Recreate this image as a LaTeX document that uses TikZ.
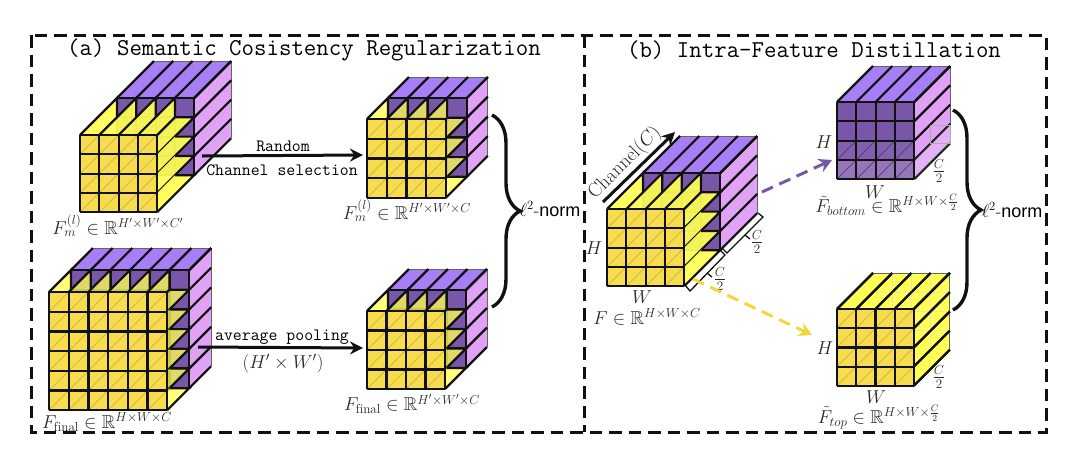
\documentclass[tikz,border=0pt]{standalone}
\usepackage{amsmath,amssymb}
\usepackage{fix-cm}
\usepackage{fontspec}
\setsansfont{Liberation Sans}
\usepackage{tikz}
\usepackage{xcolor}
\usetikzlibrary{arrows.meta,calc,decorations.pathreplacing}
\definecolor{ink}{HTML}{111111}
\definecolor{slabfront}{HTML}{7856A8}
\definecolor{slabtop}{HTML}{A67EF5}
\definecolor{slabside}{HTML}{E0A2F5}
\definecolor{lemonside}{HTML}{FFFF55}
\definecolor{lemonfront}{HTML}{F7DC4E}
\definecolor{lemondiag}{HTML}{CFB244}
\definecolor{arrowgold}{HTML}{F2D73B}

\newcommand{\slabcube}[7]{%
  \pgfmathsetmacro{\fullsize}{#3*#4}
  \fill[#6] (#1,#2) -- ++(#5,-#5) -- ++(\fullsize,0) -- ++(-#5,#5) -- cycle;
  \fill[#7] ({#1+\fullsize},#2) -- ++(#5,-#5) -- ++(0,\fullsize) -- ++(-#5,#5) -- cycle;
  \draw[edgeline] ({#1+#5},{#2-#5}) -- ++(\fullsize,0) -- ++(0,\fullsize);
  \foreach \i in {0,...,#4} {
    \draw[cellline] ({#1+\i*#3},#2) -- ++(#5,-#5);
    \draw[cellline] ({#1+\fullsize},{#2+\i*#3}) -- ++(#5,-#5);
  }
}
\newcommand{\cellgrid}[4]{%
  \foreach \i in {0,...,#4} {
    \draw[cellline] ({#1+\i*#3},#2) -- ++(0,{#3*#4});
    \draw[cellline] (#1,{#2+\i*#3}) -- ++({#3*#4},0);
  }
}
\newcommand{\frontface}[6]{%
  \fill[#5] (#1,#2) rectangle ++({#3*#4},{#3*#4});
  \pgfmathtruncatemacro{\lastcell}{#4-1}
  \foreach \i in {0,...,\lastcell} \foreach \j in {1,...,#4}
    \draw[#6,line width=.7pt] ({#1+\i*#3},{#2+\j*#3}) -- ++(#3,-#3);
  \cellgrid{#1}{#2}{#3}{#4}
}
\newcommand{\lemonstrips}[6]{%
  \pgfmathtruncatemacro{\lastcell}{#4-1}
  \pgfmathsetmacro{\rightx}{#1+#3*#4}
  \pgfmathsetmacro{\gap}{#5-#3}
  \foreach \i in {0,...,\lastcell} {
    \fill[lemonside,opacity=#6] ({#1+\i*#3},#2) -- ++(#5,-#5) -- ++(0,#3) -- ({#1+(\i+1)*#3},#2) -- cycle;
    \fill[lemonside,opacity=#6] (\rightx,{#2+\i*#3}) -- ++(\gap,-\gap) -- ++(#3,0) -- (\rightx,{#2+(\i+1)*#3}) -- cycle;
    \draw[cellline] ({#1+\i*#3},#2) -- ++(#5,-#5) -- ++(0,#3);
    \draw[cellline] (\rightx,{#2+(\i+1)*#3}) -- ++(#5,-#5) -- ++(-#3,0);
  }
  \draw[cellline] (\rightx,#2) -- ++(\gap,-\gap);
}
\newcommand{\featcube}[8]{%
  \slabcube{#1+#5}{#2-#5}{#3}{#4}{#6}{slabtop}{slabside}
  \frontface{#1+#5}{#2-#5}{#3}{#4}{slabfront}{slabfront}
  \lemonstrips{#1}{#2}{#3}{#4}{#5}{#8}
  \frontface{#1}{#2}{#3}{#4}{lemonfront}{lemondiag}
  \node[cubeanchor,minimum size={#3*#4*1pt}] (#7) at ({#1+#3*#4/2},{#2+#3*#4/2}) {};
}

\begin{document}
\begin{tikzpicture}[x=1pt,y=-1pt,
  cellline/.style={ink,line width=2.2pt},
  edgeline/.style={ink!65,line width=.8pt},
  cubeanchor/.style={inner sep=0pt,outer sep=0pt},
  framebox/.style={ink,line width=3pt,dash pattern=on 12.5pt off 7pt},
  headline/.style={font=\ttfamily\fontsize{24.2}{26}\selectfont,inner sep=0pt},
  steplabel/.style={font=\ttfamily\fontsize{17.3}{20}\selectfont,inner sep=0pt},
  mathlabel/.style={font=\fontsize{18.7}{22}\selectfont,inner sep=0pt,text=ink!90},
  normlabel/.style={font=\fontsize{18}{20}\selectfont,inner sep=0pt},
  bigarrow/.style={ink,line width=3pt,-{Stealth[length=13pt,width=13pt]}},
  dasharrow/.style={line width=3pt,dash pattern=on 12pt off 7pt,-{Stealth[length=13pt,width=14pt]}},
  bracebar/.style={ink,line width=3.4pt,decorate,decoration={brace,amplitude=28pt}},
  bracket/.style={ink,line width=1.3pt}]
\path[use as bounding box] (0,0) rectangle (1080,464);

\draw[framebox] (31,35) rectangle (1046,432);
\draw[framebox] (584,35) -- (584,432);
\node[headline] (titleA) at (304,50) {(a) Semantic Cosistency Regularization};
\node[headline] (titleB) at (814,50) {(b) Intra-Feature Distillation};

\featcube{80}{135}{19.3}{4}{37}{37}{cubeM}{.93}
\featcube{367}{119}{19.7}{4}{21}{21}{cubeMs}{.78}
\featcube{49}{292}{19.7}{6}{22}{22}{cubeFinal}{.78}
\featcube{367}{311}{19.5}{4}{21}{21}{cubeFs}{.78}
\featcube{607}{209}{19.3}{4}{36}{37}{cubeF}{.93}

\slabcube{837}{102}{19.3}{4}{36}{slabtop}{slabside}
\fill[white,opacity=.16] (914,160) -- ++(36,-36) -- ++(0,19) -- ++(-36,36) -- cycle;
\draw[ink!35,line width=.7pt] (930,125) rectangle (950,143);
\frontface{837}{102}{19.3}{4}{slabfront}{slabfront}
\fill[white,opacity=.07] (837,140.6) rectangle (914.2,159.9);
\fill[white,opacity=.2] (837,159.9) rectangle (914.2,179.2);
\foreach \i in {0,...,3} \foreach \j in {3,4}
  \draw[slabfront!70!black,line width=.7pt] ({837+\i*19.3},{102+\j*19.3}) -- ++(19.3,-19.3);
\cellgrid{837}{102}{19.3}{4}
\node[cubeanchor,minimum size=77pt] (cubeBottom) at (875.6,140.6) {};

\slabcube{837}{309}{19.2}{4}{36}{lemonside}{lemonside}
\foreach \i in {1,...,3} {
  \draw[lemondiag!40,line width=.7pt] ({873+\i*19.2},273) -- ++(0,76.8);
  \draw[lemondiag!40,line width=.7pt] (873,{273+\i*19.2}) -- ++(76.8,0);
}
\draw[edgeline] (873,273) -- (949.8,273) -- (949.8,349.8);
\foreach \i in {0,...,4} {
  \draw[cellline] ({837+\i*19.2},309) -- ++(36,-36);
  \draw[cellline] (913.8,{309+\i*19.2}) -- ++(36,-36);
}
\frontface{837}{309}{19.2}{4}{lemonfront}{lemondiag}
\node[cubeanchor,minimum size=77pt] (cubeTop) at (875.4,347.4) {};

\coordinate (randomS) at (202,156);
\coordinate (randomE) at (363,155);
\coordinate (poolS) at (198,347);
\coordinate (poolE) at (363,348);
\draw[bigarrow] (randomS) -- (randomE);
\draw[bigarrow] (poolS) -- (poolE);
\node[steplabel] (randomT) at (283,146) {Random};
\node[steplabel] (selectT) at (282,170) {Channel selection};
\node[steplabel] (poolT) at (282,337) {average pooling};
\node[mathlabel] (poolB) at (283,364) {$(H'\times W')$};

\node[mathlabel] (labM) at (118,226) {$F_m^{(l)}\in\mathbb{R}^{H'\times W'\times C'}$};
\node[mathlabel] (labMs) at (407,211) {$F_m^{(l)}\in\mathbb{R}^{H'\times W'\times C}$};
\node[mathlabel] (labFinal) at (107,422) {$F_{\mathrm{final}}\in\mathbb{R}^{H\times W\times C}$};
\node[mathlabel] (labFs) at (412,404) {$F_{\mathrm{final}}\in\mathbb{R}^{H'\times W'\times C}$};

\coordinate (braceAs) at (492,115);
\coordinate (braceAe) at (492,307);
\draw[bracebar] (braceAs) -- (braceAe);
\node[normlabel] (normA) at (550,209) {$\ell^2$-{\sffamily norm}};

\coordinate (chanS) at (603,202);
\coordinate (chanE) at (675,132);
\draw[bigarrow] (chanS) -- (chanE);
\node[mathlabel,font=\fontsize{19.6}{22}\selectfont,rotate=45] (chanT) at (625,163) {Channel($C$)};
\node[mathlabel] (labH) at (594,248) {$H$};
\node[mathlabel] (labW) at (642,297) {$W$};
\node[mathlabel] (labF) at (647,317) {$F\in\mathbb{R}^{H\times W\times C}$};

\draw[bracket] (685,285) -- (690,291) -- (725,255) -- (720,250);
\draw[bracket] (707,273) -- (712,277);
\draw[bracket] (722,248) -- (727,253) -- (763,217) -- (758,213);
\draw[bracket] (745,235) -- (750,239);
\node[mathlabel] (halfA) at (720,279) {$\frac{C}{2}$};
\node[mathlabel] (halfB) at (757,242) {$\frac{C}{2}$};

\coordinate (purpleS) at (762,192);
\coordinate (purpleE) at (832,160);
\coordinate (goldS) at (693,279);
\coordinate (goldE) at (812,335);
\draw[dasharrow,slabfront] (purpleS) -- (purpleE);
\draw[dasharrow,arrowgold] (goldS) -- (goldE);

\node[mathlabel] (labHb) at (824,142) {$H$};
\node[mathlabel] (labWb) at (875,192) {$W$};
\node[mathlabel] (halfC) at (939,171) {$\frac{C}{2}$};
\node[mathlabel] (labBottom) at (887,205) {$\tilde{F}_{bottom}\in\mathbb{R}^{H\times W\times\frac{C}{2}}$};
\node[mathlabel] (labHt) at (825,348) {$H$};
\node[mathlabel] (labWt) at (876,397) {$W$};
\node[mathlabel] (halfD) at (939,377) {$\frac{C}{2}$};
\node[mathlabel] (labTop) at (879,417) {$\tilde{F}_{top}\in\mathbb{R}^{H\times W\times\frac{C}{2}}$};

\coordinate (braceBs) at (953,110);
\coordinate (braceBe) at (953,310);
\draw[bracebar] (braceBs) -- (braceBe);
\node[normlabel] (normB) at (1012,210) {$\ell^2$-{\sffamily norm}};
\end{tikzpicture}
\end{document}
